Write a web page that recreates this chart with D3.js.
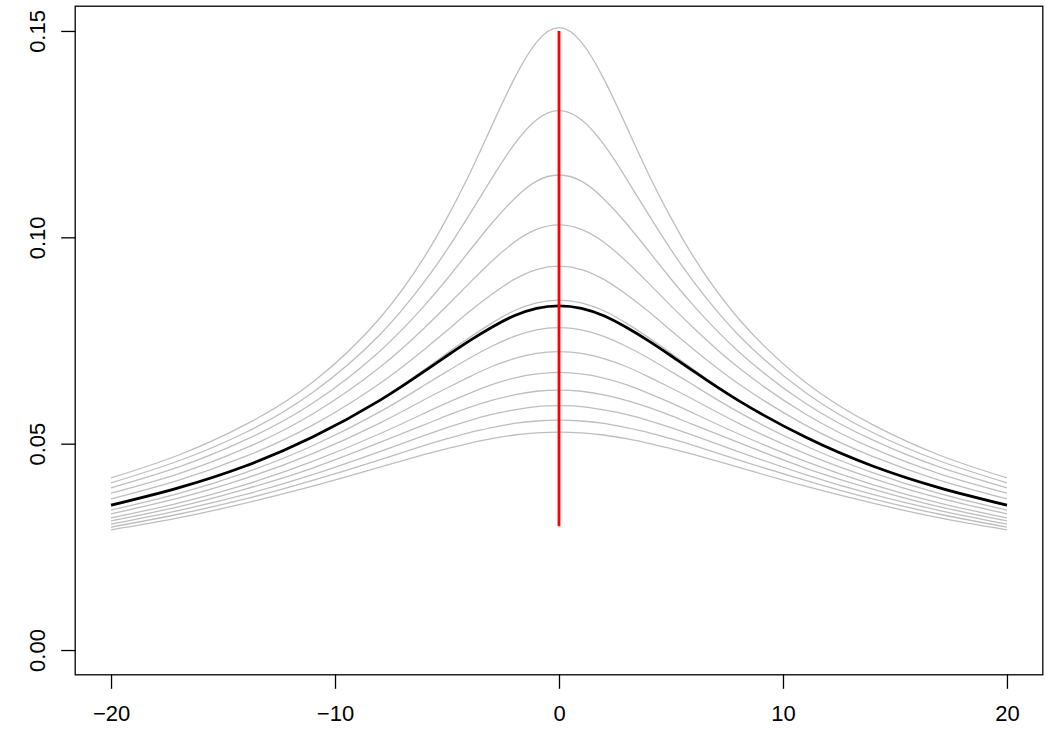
<!DOCTYPE html>
<html>
<head>
<meta charset="utf-8">
<script src="https://cdn.jsdelivr.net/npm/d3@7"></script>
<style>
  html, body { margin: 0; padding: 0; background: #ffffff; }
  svg { display: block; font-family: "Liberation Sans", Arial, Helvetica, sans-serif; }
</style>
</head>
<body>
<svg id="chart" width="1050" height="750"></svg>
<script>
// x positions shared by all curves
const xValues = [-20, -17, -14, -11, -8, -6, -5, -4, -3, -2, -1, 0, 1, 2, 3, 4, 5, 6, 8, 11, 14, 17, 20];

// grey curves (top to bottom by peak height)
const g1  = [0.0417, 0.0472, 0.0546, 0.0649, 0.0804, 0.0953, 0.1047, 0.1153, 0.1270, 0.1384, 0.1473, 0.1508, 0.1473, 0.1384, 0.1270, 0.1153, 0.1047, 0.0953, 0.0804, 0.0649, 0.0546, 0.0472, 0.0417];
const g2  = [0.0405, 0.0458, 0.0527, 0.0624, 0.0764, 0.0893, 0.0970, 0.1055, 0.1143, 0.1225, 0.1285, 0.1307, 0.1285, 0.1225, 0.1143, 0.1055, 0.0970, 0.0893, 0.0764, 0.0624, 0.0527, 0.0458, 0.0405];
const g3  = [0.0393, 0.0443, 0.0509, 0.0598, 0.0724, 0.0835, 0.0899, 0.0967, 0.1034, 0.1093, 0.1136, 0.1151, 0.1136, 0.1093, 0.1034, 0.0967, 0.0899, 0.0835, 0.0724, 0.0598, 0.0509, 0.0443, 0.0393];
const g4  = [0.0380, 0.0427, 0.0489, 0.0572, 0.0685, 0.0781, 0.0834, 0.0889, 0.0942, 0.0988, 0.1019, 0.1030, 0.1019, 0.0988, 0.0942, 0.0889, 0.0834, 0.0781, 0.0685, 0.0572, 0.0489, 0.0427, 0.0380];
const g5  = [0.0366, 0.0411, 0.0469, 0.0545, 0.0646, 0.0729, 0.0774, 0.0820, 0.0862, 0.0898, 0.0922, 0.0930, 0.0922, 0.0898, 0.0862, 0.0820, 0.0774, 0.0729, 0.0646, 0.0545, 0.0469, 0.0411, 0.0366];
const g6  = [0.0349, 0.0391, 0.0445, 0.0515, 0.0606, 0.0680, 0.0719, 0.0757, 0.0792, 0.0822, 0.0841, 0.0848, 0.0841, 0.0822, 0.0792, 0.0757, 0.0719, 0.0680, 0.0606, 0.0515, 0.0445, 0.0391, 0.0349];
const g7  = [0.0339, 0.0379, 0.0430, 0.0495, 0.0577, 0.0642, 0.0675, 0.0707, 0.0736, 0.0760, 0.0776, 0.0781, 0.0776, 0.0760, 0.0736, 0.0707, 0.0675, 0.0642, 0.0577, 0.0495, 0.0430, 0.0379, 0.0339];
const g8  = [0.0330, 0.0368, 0.0416, 0.0476, 0.0550, 0.0607, 0.0635, 0.0662, 0.0687, 0.0706, 0.0719, 0.0723, 0.0719, 0.0706, 0.0687, 0.0662, 0.0635, 0.0607, 0.0550, 0.0476, 0.0416, 0.0368, 0.0330];
const g9  = [0.0320, 0.0356, 0.0401, 0.0457, 0.0524, 0.0574, 0.0599, 0.0622, 0.0643, 0.0659, 0.0669, 0.0673, 0.0669, 0.0659, 0.0643, 0.0622, 0.0599, 0.0574, 0.0524, 0.0457, 0.0401, 0.0356, 0.0320];
const g10 = [0.0313, 0.0347, 0.0390, 0.0441, 0.0503, 0.0546, 0.0568, 0.0588, 0.0605, 0.0618, 0.0627, 0.0630, 0.0627, 0.0618, 0.0605, 0.0588, 0.0568, 0.0546, 0.0503, 0.0441, 0.0390, 0.0347, 0.0313];
const g11 = [0.0305, 0.0338, 0.0377, 0.0425, 0.0481, 0.0520, 0.0539, 0.0556, 0.0571, 0.0582, 0.0590, 0.0592, 0.0590, 0.0582, 0.0571, 0.0556, 0.0539, 0.0520, 0.0481, 0.0425, 0.0377, 0.0338, 0.0305];
const g12 = [0.0298, 0.0329, 0.0366, 0.0411, 0.0461, 0.0496, 0.0512, 0.0527, 0.0539, 0.0549, 0.0555, 0.0557, 0.0555, 0.0549, 0.0539, 0.0527, 0.0512, 0.0496, 0.0461, 0.0411, 0.0366, 0.0329, 0.0298];
const g13 = [0.0291, 0.0320, 0.0356, 0.0397, 0.0443, 0.0474, 0.0488, 0.0501, 0.0512, 0.0521, 0.0526, 0.0528, 0.0526, 0.0521, 0.0512, 0.0501, 0.0488, 0.0474, 0.0443, 0.0397, 0.0356, 0.0320, 0.0291];
const greyCurves = [g1, g2, g3, g4, g5, g6, g7, g8, g9, g10, g11, g12, g13];

// black (average) curve
const blackCurve = [0.0351, 0.0393, 0.0446, 0.0516, 0.0605, 0.0676, 0.0713, 0.0749, 0.0782, 0.0810, 0.0828, 0.0834, 0.0828, 0.0810, 0.0782, 0.0749, 0.0713, 0.0676, 0.0605, 0.0516, 0.0446, 0.0393, 0.0351];

// red vertical segment
const redX = [0, 0];
const redY = [0.03, 0.15];

// axis ticks
const xTicks = [-20, -10, 0, 10, 20];
const xTickLabels = ["\u221220", "\u221210", "0", "10", "20"];
const yTicks = [0, 0.05, 0.10, 0.15];
const yTickLabels = ["0.00", "0.05", "0.10", "0.15"];

// ---------- drawing ----------
const svg = d3.select("#chart");
const plotLeft = 75.2, plotRight = 1042.8, plotTop = 6.2, plotBottom = 674.8;

const x = d3.scaleLinear().domain([-21.6, 21.6]).range([plotLeft, plotRight]);
const y = d3.scaleLinear().domain([-0.006, 0.156]).range([plotBottom, plotTop]);

const line = d3.line()
  .x(d => x(d[0]))
  .y(d => y(d[1]))
  .curve(d3.curveNatural);

const plot = svg.append("g");

greyCurves.forEach(vals => {
  plot.append("path")
    .attr("d", line(xValues.map((xv, i) => [xv, vals[i]])))
    .attr("fill", "none")
    .attr("stroke", "#bebebe")
    .attr("stroke-width", 1.3);
});

plot.append("path")
  .attr("d", line(xValues.map((xv, i) => [xv, blackCurve[i]])))
  .attr("fill", "none")
  .attr("stroke", "#000000")
  .attr("stroke-width", 2.8);

plot.append("path")
  .attr("d", d3.line().x(d => x(d[0])).y(d => y(d[1]))(redX.map((xv, i) => [xv, redY[i]])))
  .attr("fill", "none")
  .attr("stroke", "#ff0000")
  .attr("stroke-width", 2.8);

// box
svg.append("rect")
  .attr("x", plotLeft).attr("y", plotTop)
  .attr("width", plotRight - plotLeft).attr("height", plotBottom - plotTop)
  .attr("fill", "none").attr("stroke", "#000").attr("stroke-width", 1.3);

// x axis
const xAxis = d3.axisBottom(x)
  .tickValues(xTicks)
  .tickSize(14)
  .tickPadding(17)
  .tickFormat((d, i) => xTickLabels[i]);
const gx = svg.append("g").attr("transform", `translate(0,${plotBottom})`).call(xAxis);
gx.select(".domain").remove();
gx.selectAll(".tick line").attr("stroke", "#000").attr("stroke-width", 1.3);
gx.selectAll(".tick text").attr("font-size", 22).attr("fill", "#000")
  .attr("font-family", "Liberation Sans, Arial, sans-serif");

// y axis
const yAxis = d3.axisLeft(y)
  .tickValues(yTicks)
  .tickSize(14)
  .tickFormat((d, i) => yTickLabels[i]);
const gy = svg.append("g").attr("transform", `translate(${plotLeft},0)`).call(yAxis);
gy.select(".domain").remove();
gy.selectAll(".tick line").attr("stroke", "#000").attr("stroke-width", 1.3);
gy.selectAll(".tick text")
  .attr("font-size", 22).attr("fill", "#000")
  .attr("font-family", "Liberation Sans, Arial, sans-serif")
  .attr("text-anchor", "middle")
  .attr("dy", null)
  .attr("x", null)
  .attr("transform", "translate(-30,0) rotate(-90)")
  .attr("y", 0);
</script>
</body>
</html>
